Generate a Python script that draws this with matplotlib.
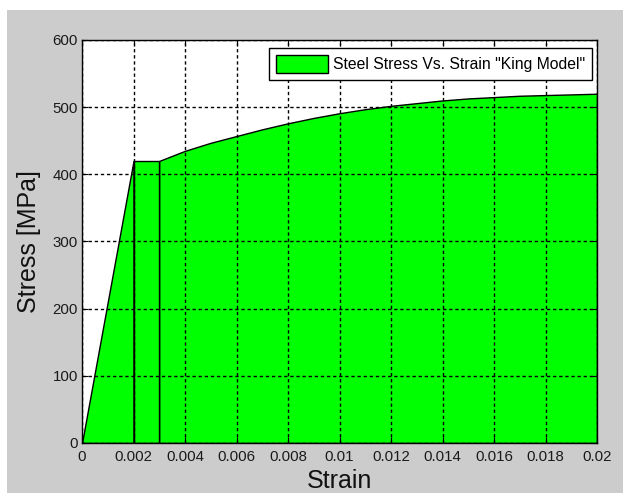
import numpy as np
import matplotlib.pyplot as plt
from matplotlib.patches import Rectangle

# King model steel stress-strain, read in three parts (elastic, yield plateau, hardening)
strain_el = [0.0, 0.002]
stress_el = [0.0, 420.0]
strain_pl = [0.002, 0.003]
stress_pl = [420.0, 420.0]
strain_sh = [0.003, 0.004, 0.005, 0.006, 0.007, 0.008, 0.009, 0.010, 0.011,
             0.012, 0.013, 0.014, 0.015, 0.016, 0.017, 0.018, 0.019, 0.020]
stress_sh = [420, 435, 447, 457, 467, 476, 484, 491, 497,
             502, 506, 510, 513, 515, 517, 518, 519, 520]

xticks = [0, 0.002, 0.004, 0.006, 0.008, 0.01, 0.012, 0.014, 0.016, 0.018, 0.02]
xticklabels = ['0', '0.002', '0.004', '0.006', '0.008', '0.01', '0.012', '0.014', '0.016', '0.018', '0.02']
yticks = [0, 100, 200, 300, 400, 500, 600]

plt.rcParams['font.family'] = ['Liberation Sans', 'DejaVu Sans']

W, H = 623, 493
fig = plt.figure(figsize=(W / 100, H / 100), dpi=100, facecolor='white')
# grey window background
fig.patches.append(Rectangle((7 / W, 0), 1, (H - 10) / H, transform=fig.transFigure,
                             facecolor='#cccccc', edgecolor='none', zorder=-5))

ax = fig.add_axes([82 / W, 50 / H, 515 / W, 403 / H])
ax.set_zorder(1)
ax.set_facecolor('white')

green = '#00ff00'
ax.fill_between(strain_el, stress_el, 0, facecolor=green, edgecolor='black', lw=1.0, zorder=1)
ax.fill_between(strain_pl, stress_pl, 0, facecolor=green, edgecolor='black', lw=1.0, zorder=1)
ax.fill_between(strain_sh, stress_sh, 0, facecolor=green, edgecolor='black', lw=1.0, zorder=1,
                label='Steel Stress Vs. Strain "King Model"')

ax.set_xlim(0, 0.02)
ax.set_ylim(0, 600)
ax.set_xticks(xticks)
ax.set_xticklabels(xticklabels)
ax.set_yticks(yticks)
ax.set_axisbelow(False)
ax.grid(True, color='black', linestyle=(0, (2.4, 2.0)), lw=1.0)
ax.tick_params(direction='in', length=4, width=0.8, top=True, right=True,
               labelsize=10.8, colors='black', labelcolor='#1a1a1a')
ax.tick_params(axis='x', pad=5)
ax.tick_params(axis='y', pad=3)
for s in ax.spines.values():
    s.set_linewidth(1.0)
    s.set_color('black')

ax.set_xlabel('Strain', fontsize=18, labelpad=4, color='#111111')
ax.set_ylabel('Stress [MPa]', fontsize=18, labelpad=8, color='#111111')

leg = ax.legend(loc='upper right', bbox_to_anchor=(510 / 515, (443 - 48) / 403),
                borderaxespad=0, fontsize=11.3, handlelength=3.3, handleheight=1.4,
                handletextpad=0.3, borderpad=0.45, fancybox=False, framealpha=1)
leg.get_frame().set_edgecolor('black')
leg.get_frame().set_linewidth(1.0)

fig.savefig('out.png', dpi=100, facecolor=fig.get_facecolor())
